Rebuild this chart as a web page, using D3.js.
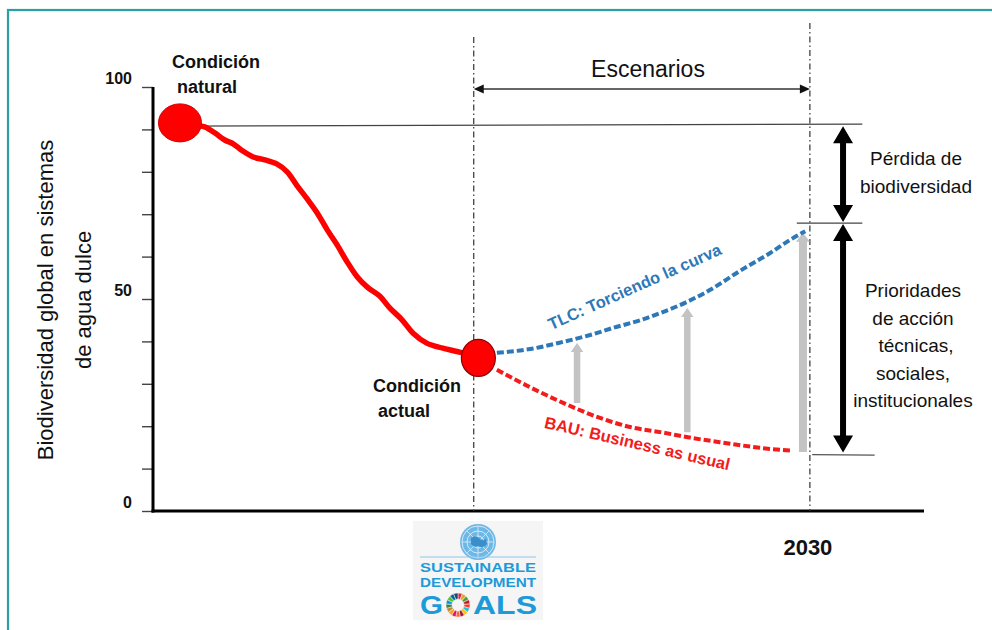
<!DOCTYPE html>
<html><head><meta charset="utf-8">
<script src="https://cdn.jsdelivr.net/npm/d3@7"></script>
<style>
body{margin:0;background:#fff}
svg{display:block;font-family:"Liberation Sans",Arial,Helvetica,sans-serif}
</style>
</head><body>
<svg id="chart" width="992" height="630"></svg>
<script>
// ---------------- DATA ----------------
const yTickValues = [0,10,20,30,40,50,60,70,80,90,100];
const yTickLabels = ["0","50","100"];
const xTickLabel = "2030";

// historical decline (time index, biodiversity %)
const historyT = [3.5,5.5,6.7,8.0,9.3,10.4,11.5,13.0,14.5,16.1,17.4,18.7,20.0,21.3,22.6,23.9,25.2,26.5,27.8,29.4,30.7,32.3,33.7,35.5,37.6,40.1,42.2];
const historyV = [91.3,91.0,90.6,89.2,87.5,86.6,85.1,83.5,82.8,81.8,80.0,76.7,73.6,70.3,66.3,62.7,58.7,55.2,52.8,50.7,47.9,45.1,42.0,39.6,38.4,37.3,36.1];

// TLC scenario (bending the curve)
const tlcT = [44.6,48.9,53.2,56.7,59.7,63.2,65.8,69.0,72.2,76.1,80.0,82.6,84.6];
const tlcV = [37.3,38.2,39.9,41.5,43.2,45.0,46.7,49.1,52.1,56.6,60.8,63.9,66.0];

// BAU scenario
const bauT = [44.6,48.9,53.2,57.6,61.9,65.8,70.0,74.4,78.7,82.9];
const bauV = [33.3,29.2,25.5,22.2,19.8,18.6,17.2,16.0,14.9,14.2];

// grey action arrows (from BAU up to TLC)
const actionT    = [55.0,69.3,84.3];
const actionFrom = [25.5,18.6,13.9];
const actionTo   = [39.6,47.9,65.6];

// key points
const naturalPoint = {t:3.5, v:91.3};
const currentPoint = {t:42.2, v:36.1};
const tNowLine = 41.6, t2030 = 85.2;
const lossLevels = {top:91.0, mid:67.9, bottom:13.3};

const sdgColors = ["#E5243B","#DDA63A","#4C9F38","#C5192D","#FF3A21","#26BDE2","#FCC30B","#A21942","#FD6925","#DD1367","#FD9D24","#BF8B2E","#3F7E44","#0A97D9","#56C02B","#00689D","#19486A"];

// ---------------- SCALES ----------------
const svg = d3.select("#chart");
const x = d3.scaleLinear().domain([0,100]).range([153,924]);
const y = d3.scaleLinear().domain([0,100]).range([511,87]);

// frame
svg.append("rect").attr("x",8).attr("y",10).attr("width",1100).attr("height",800)
  .attr("fill","none").attr("stroke","#2a9fa7").attr("stroke-width",2.2);

// ---------------- AXES ----------------
const yAxis = d3.axisLeft(y).tickValues(yTickValues).tickSize(11).tickPadding(10)
  .tickFormat(d => yTickLabels.includes(String(d)) ? String(d) : "");
const gy = svg.append("g").attr("transform",`translate(${x(0)},0)`).call(yAxis);
gy.select(".domain").remove();
gy.selectAll(".tick line").attr("stroke","#444").attr("stroke-width",1.4);
gy.selectAll(".tick text").attr("font-size",16).attr("font-weight","bold")
  .attr("fill","#111").attr("dy","-4px").attr("font-family","Liberation Sans, Arial, sans-serif");

svg.append("line").attr("x1",x(0)).attr("x2",x(0)).attr("y1",y(100)).attr("y2",y(0)+1.5)
  .attr("stroke","#000").attr("stroke-width",3);
svg.append("line").attr("x1",x(0)-1.5).attr("x2",x(100)).attr("y1",y(0)).attr("y2",y(0))
  .attr("stroke","#000").attr("stroke-width",3);

svg.append("text").attr("x",x(t2030)-2).attr("y",555).attr("text-anchor","middle")
  .attr("font-size",22).attr("font-weight","bold").attr("fill","#111").text(xTickLabel);

// y axis title
const yt = svg.append("text").attr("transform","translate(0,300) rotate(-90)")
  .attr("text-anchor","middle").attr("font-size",22).attr("fill","#111");
yt.append("tspan").attr("x",0).attr("y",53).text("Biodiversidad global en sistemas");
yt.append("tspan").attr("x",0).attr("y",91).text("de agua dulce");

// ---------------- REFERENCE LINES ----------------
const dashDot = "6,3,1.5,3";
svg.append("line").attr("x1",x(tNowLine)).attr("x2",x(tNowLine)).attr("y1",37).attr("y2",y(0))
  .attr("stroke","#333").attr("stroke-width",1.2).attr("stroke-dasharray",dashDot);
svg.append("line").attr("x1",x(t2030)).attr("x2",x(t2030)).attr("y1",23).attr("y2",y(0))
  .attr("stroke","#333").attr("stroke-width",1.2).attr("stroke-dasharray",dashDot);

// Escenarios arrow
const ay = 89;
svg.append("line").attr("x1",x(tNowLine)+8).attr("x2",x(t2030)-8).attr("y1",ay).attr("y2",ay)
  .attr("stroke","#333").attr("stroke-width",1.4);
svg.append("path").attr("d",`M${x(tNowLine)},${ay} l10,-4.5 l0,9 z`).attr("fill","#111");
svg.append("path").attr("d",`M${x(t2030)},${ay} l-10,-4.5 l0,9 z`).attr("fill","#111");
svg.append("text").attr("x",648).attr("y",77).attr("text-anchor","middle")
  .attr("font-size",23).attr("fill","#111").text("Escenarios");

// horizontal level lines
svg.append("line").attr("x1",x(naturalPoint.t)).attr("x2",x(92)).attr("y1",y(lossLevels.top)+1).attr("y2",y(lossLevels.top)-1)
  .attr("stroke","#444").attr("stroke-width",1.2);
svg.append("line").attr("x1",x(83.5)).attr("x2",x(92)).attr("y1",y(lossLevels.mid)).attr("y2",y(lossLevels.mid))
  .attr("stroke","#444").attr("stroke-width",1.2);
svg.append("line").attr("x1",x(85.5)).attr("x2",x(93.6)).attr("y1",y(lossLevels.bottom)).attr("y2",y(lossLevels.bottom)+0.5)
  .attr("stroke","#555").attr("stroke-width",1.2);

// arrow helper (vertical)
function vArrow(cx, yTop, yBot, sw, hw, hl, headTop, headBot){
  const s = sw/2, h = hw/2;
  let p = "";
  if(headTop){ p += `M${cx},${yTop} L${cx+h},${yTop+hl} L${cx+s},${yTop+hl} `; }
  else { p += `M${cx+s},${yTop} `; }
  if(headBot){ p += `L${cx+s},${yBot-hl} L${cx+h},${yBot-hl} L${cx},${yBot} L${cx-h},${yBot-hl} L${cx-s},${yBot-hl} `; }
  else { p += `L${cx+s},${yBot} L${cx-s},${yBot} `; }
  if(headTop){ p += `L${cx-s},${yTop+hl} L${cx-h},${yTop+hl} Z`; }
  else { p += `L${cx-s},${yTop} Z`; }
  return p;
}

// grey action arrows
actionT.forEach((t,i)=>{
  const w = i===2 ? 8 : 6.5;
  svg.append("path").attr("d",vArrow(x(t), y(actionTo[i]), y(actionFrom[i]), w, w+6, 9, true, false))
    .attr("fill","#c3c3c3");
});

// black double arrows
const tArrow = 89.5;
svg.append("path").attr("d",vArrow(x(tArrow), y(lossLevels.top)+1, y(lossLevels.mid)-1, 6, 20, 17, true, true)).attr("fill","#000");
svg.append("path").attr("d",vArrow(x(tArrow), y(lossLevels.mid)+1, y(lossLevels.bottom)-2, 6, 20, 17, true, true)).attr("fill","#000");

// ---------------- CURVES ----------------
const line = d3.line().x(d=>x(d[0])).y(d=>y(d[1]));
svg.append("path").datum(tlcT.map((t,i)=>[t,tlcV[i]]))
  .attr("d",line.curve(d3.curveMonotoneX)).attr("fill","none")
  .attr("stroke","#2e78b7").attr("stroke-width",4).attr("stroke-dasharray","7,3");
svg.append("path").datum(bauT.map((t,i)=>[t,bauV[i]]))
  .attr("d",line.curve(d3.curveMonotoneX)).attr("fill","none")
  .attr("stroke","#f21c1c").attr("stroke-width",4).attr("stroke-dasharray","7,3");
svg.append("path").datum(historyT.map((t,i)=>[t,historyV[i]]))
  .attr("d",d3.line().x(d=>x(d[0])).y(d=>y(d[1])).curve(d3.curveCatmullRom.alpha(0.5)))
  .attr("fill","none").attr("stroke","#ff0000").attr("stroke-width",5.5)
  .attr("stroke-linejoin","round").attr("stroke-linecap","round");

// points
svg.append("ellipse").attr("cx",x(naturalPoint.t)).attr("cy",y(naturalPoint.v)-1).attr("rx",21.5).attr("ry",19)
  .attr("fill","#ff0000").attr("stroke","#d00000").attr("stroke-width",1);
svg.append("ellipse").attr("cx",x(currentPoint.t)).attr("cy",y(currentPoint.v)).attr("rx",17).attr("ry",18.5)
  .attr("fill","#ff0000").attr("stroke","#8b0000").attr("stroke-width",1.2);

// ---------------- TEXT LABELS ----------------
function lines(xp, yp, arr, opts){
  const t = svg.append("text").attr("font-size",opts.size).attr("fill",opts.fill||"#111")
    .attr("font-weight",opts.weight||"normal").attr("text-anchor",opts.anchor||"start");
  arr.forEach((s,i)=> t.append("tspan").attr("x",xp + (opts.dx? opts.dx[i]:0)).attr("y",yp + i*opts.lh).text(s));
}
lines(172, 68, ["Condición","natural"], {size:18, weight:"bold", lh:25, dx:[0,5]});
lines(373, 392, ["Condición","actual"], {size:18, weight:"bold", lh:25, dx:[0,5]});
lines(916, 165, ["Pérdida de","biodiversidad"], {size:19, lh:28, anchor:"middle"});
lines(913, 297, ["Prioridades","de acción","técnicas,","sociales,","institucionales"], {size:19, lh:27.5, anchor:"middle", dx:[0,0,3,0,0]});

svg.append("text").attr("transform","translate(637,292) rotate(-24)").attr("text-anchor","middle")
  .attr("font-size",16.5).attr("font-weight","bold").attr("fill","#2e78b7").text("TLC: Torciendo la curva");
svg.append("text").attr("transform","translate(636,449) rotate(13)").attr("text-anchor","middle")
  .attr("font-size",16.5).attr("font-weight","bold").attr("fill","#f21c1c").text("BAU: Business as usual");

// ---------------- SDG LOGO ----------------
const logo = svg.append("g");
logo.append("rect").attr("x",413).attr("y",521).attr("width",130).attr("height",99).attr("fill","#f5f5f5");
const ecx = 478, ecy = 542;
logo.append("circle").attr("cx",ecx).attr("cy",ecy).attr("r",18).attr("fill","#6db8e6");
[6,11,16].forEach(r=>logo.append("circle").attr("cx",ecx).attr("cy",ecy).attr("r",r)
  .attr("fill","none").attr("stroke","#e8f4fb").attr("stroke-width",0.8));
for(let k=0;k<8;k++){
  const a=k*Math.PI/4;
  logo.append("line").attr("x1",ecx).attr("y1",ecy).attr("x2",ecx+16*Math.cos(a)).attr("y2",ecy+16*Math.sin(a))
    .attr("stroke","#e8f4fb").attr("stroke-width",0.7);
}
logo.append("path").attr("d",`M${ecx-7},${ecy-4} q5,-4 9,1 q4,3 6,-1 l1,6 q-4,5 -9,2 q-4,2 -7,-2 z`).attr("fill","#3a8fcb");
logo.append("line").attr("x1",420).attr("x2",536).attr("y1",557).attr("y2",557).attr("stroke","#8cc8ec").attr("stroke-width",1.2);
logo.append("text").attr("x",478).attr("y",572).attr("text-anchor","middle").attr("font-size",13).attr("font-weight","bold")
  .attr("fill","#1d9ad8").attr("textLength",116).attr("lengthAdjust","spacingAndGlyphs").text("SUSTAINABLE");
logo.append("text").attr("x",478).attr("y",587).attr("text-anchor","middle").attr("font-size",13).attr("font-weight","bold")
  .attr("fill","#1d9ad8").attr("textLength",116).attr("lengthAdjust","spacingAndGlyphs").text("DEVELOPMENT");
logo.append("text").attr("x",420).attr("y",614).attr("font-size",26).attr("font-weight","bold")
  .attr("fill","#1d9ad8").attr("textLength",23).attr("lengthAdjust","spacingAndGlyphs").text("G");
logo.append("text").attr("x",473).attr("y",614).attr("font-size",26).attr("font-weight","bold")
  .attr("fill","#1d9ad8").attr("textLength",64).attr("lengthAdjust","spacingAndGlyphs").text("ALS");
const pie = d3.pie().value(1).sort(null)(sdgColors);
const arc = d3.arc().innerRadius(6).outerRadius(12);
logo.append("g").attr("transform","translate(458,605)").selectAll("path").data(pie).join("path")
  .attr("d",arc).attr("fill",(d,i)=>sdgColors[i]).attr("stroke","#f5f5f5").attr("stroke-width",0.5);
</script>
</body></html>
